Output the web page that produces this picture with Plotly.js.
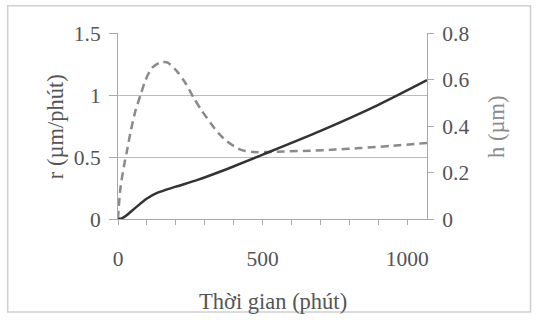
<!DOCTYPE html>
<html>
<head>
<meta charset="utf-8">
<script src="https://cdn.plot.ly/plotly-3.0.1.min.js"></script>
<style>html,body{margin:0;padding:0;background:#fff;}#chart{width:537px;height:320px;}</style>
</head>
<body>
<div id="chart"></div>
<script>
// r (µm/phút) — dashed curve, left axis
const timeR = [0, 8, 20, 32, 45, 60, 78, 95, 118, 147, 170, 204, 233, 262, 291, 320, 348, 377, 423, 469, 515, 573, 665, 750, 836, 951, 1068];
const rValues = [0, 0.24, 0.42, 0.56, 0.72, 0.87, 1.0, 1.12, 1.22, 1.263, 1.263, 1.19, 1.097, 0.976, 0.868, 0.774, 0.69, 0.626, 0.559, 0.54, 0.54, 0.545, 0.551, 0.56, 0.572, 0.591, 0.613];
// h (µm) — solid curve, right axis
const timeH = [0, 15, 30, 60, 100, 135, 200, 275, 345, 500, 700, 900, 1068];
const hValues = [0, 0.004, 0.016, 0.048, 0.088, 0.112, 0.139, 0.168, 0.2, 0.277, 0.379, 0.491, 0.597];

const xTitle = "Thời gian (phút)";
const yTitle = "r (µm/phút)";
const y2Title = "h (µm)";

const textColor = "#555";
const fontFam = "Liberation Serif, Times New Roman, serif";

const traces = [
  {x: timeR, y: rValues, type: "scatter", mode: "lines", yaxis: "y",
   line: {color: "#8a8a8a", width: 2.5, dash: "8px,5px", shape: "spline", smoothing: 0.8}, hoverinfo: "skip"},
  {x: timeH, y: hValues, type: "scatter", mode: "lines", yaxis: "y2",
   line: {color: "#333", width: 2.5, shape: "spline", smoothing: 0.8}, hoverinfo: "skip"}
];

const titleFont = {family: fontFam, size: 22.5, color: textColor};

const layout = {
  width: 537, height: 320,
  margin: {l: 118, r: 110, t: 33, b: 101},
  paper_bgcolor: "#fff", plot_bgcolor: "#fff",
  showlegend: false,
  font: {family: fontFam, size: 21.5, color: textColor},
  xaxis: {
    range: [0, 1068], dtick: 500, tick0: 0,
    showline: true, linecolor: "#aaa", linewidth: 1,
    showgrid: false, zeroline: false,
    ticks: "outside", ticklen: 5, tickcolor: "#aaa",
    ticklabelstandoff: 15,
    minor: {dtick: 100, ticks: "outside", ticklen: 5, tickcolor: "#aaa", showgrid: false},
    automargin: false
  },
  yaxis: {
    range: [0, 1.5], dtick: 0.5,
    showline: true, linecolor: "#aaa", linewidth: 1,
    showgrid: true, gridcolor: "#bbb", gridwidth: 1, zeroline: false,
    ticks: "outside", ticklen: 8, tickcolor: "#aaa",
    ticklabelstandoff: 4,
    automargin: false
  },
  yaxis2: {
    range: [0, 0.8], dtick: 0.2, overlaying: "y", side: "right",
    showline: true, linecolor: "#aaa", linewidth: 1,
    showgrid: false, zeroline: false,
    ticks: "outside", ticklen: 6, tickcolor: "#aaa",
    ticklabelstandoff: 4,
    automargin: false
  },
  annotations: [
    {text: xTitle, xref: "paper", yref: "paper", x: 0.5, y: -0.446, xanchor: "center", yanchor: "middle",
     showarrow: false, font: titleFont},
    {text: yTitle, xref: "paper", yref: "paper", x: -0.2, y: 0.495, xanchor: "center", yanchor: "middle",
     textangle: -90, showarrow: false, font: titleFont},
    {text: y2Title, xref: "paper", yref: "paper", x: 1.2265, y: 0.495, xanchor: "center", yanchor: "middle",
     textangle: -90, showarrow: false, font: {family: fontFam, size: 22.5, color: "#8a8a8a"}}
  ],
  shapes: [
    {type: "rect", xref: "paper", yref: "paper", x0: -0.357, x1: 1.335, y0: -0.5, y1: 1.146,
     line: {color: "#cfcfcf", width: 1.5}, fillcolor: "rgba(0,0,0,0)", layer: "below"}
  ]
};

Plotly.newPlot("chart", traces, layout, {staticPlot: true, displayModeBar: false});
</script>
</body>
</html>
